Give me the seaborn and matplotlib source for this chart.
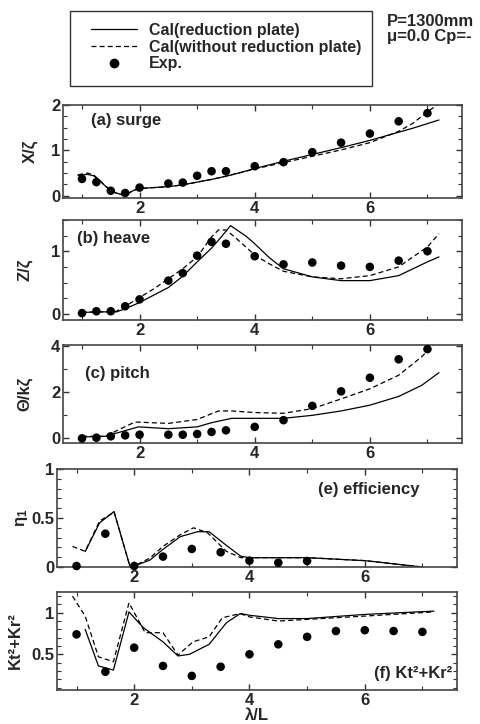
import matplotlib
matplotlib.use("Agg")
import matplotlib.pyplot as plt
from matplotlib.lines import Line2D
from matplotlib.patches import Rectangle
from matplotlib.ticker import MultipleLocator, FixedLocator, FuncFormatter
import seaborn as sns

sns.set_theme(style="ticks")
plt.rcParams['font.family'] = ['Liberation Sans', 'DejaVu Sans']
plt.rcParams['font.weight'] = 'bold'
plt.rcParams['mathtext.default'] = 'regular'

# ---------------- data ----------------
exp_x = [1.0, 1.25, 1.5, 1.75, 2.0, 2.5, 2.75, 3.0, 3.25, 3.5, 4.0, 4.5, 5.0, 5.5, 6.0, 6.5, 7.0]
surge_exp = [0.37, 0.30, 0.11, 0.06, 0.18, 0.27, 0.29, 0.44, 0.54, 0.54, 0.65, 0.74, 0.96, 1.17, 1.37, 1.64, 1.82]
heave_exp = [0.01, 0.04, 0.04, 0.12, 0.23, 0.53, 0.65, 0.93, 1.15, 1.12, 0.92, 0.79, 0.82, 0.77, 0.75, 0.85, 1.00]
pitch_exp = [0.0, 0.03, 0.09, 0.13, 0.16, 0.16, 0.16, 0.19, 0.28, 0.35, 0.50, 0.79, 1.41, 2.04, 2.63, 3.43, 3.87]

eff_exp_x = [1.0, 1.5, 2.0, 2.5, 3.0, 3.5, 4.0, 4.5, 5.0]
eff_exp = [0.01, 0.34, 0.01, 0.106, 0.184, 0.15, 0.065, 0.044, 0.061]

kt_exp_x = [1.0, 1.5, 2.0, 2.5, 3.0, 3.5, 4.0, 4.5, 5.0, 5.5, 6.0, 6.5, 7.0]
kt_exp = [0.74, 0.29, 0.58, 0.36, 0.24, 0.35, 0.50, 0.62, 0.71, 0.78, 0.79, 0.78, 0.77]

surge_x = [0.93, 1.0, 1.1, 1.2, 1.3, 1.4, 1.5, 1.6, 1.7, 1.8, 1.9, 2.0, 2.25, 2.5, 2.75, 3.0, 3.25, 3.5, 3.75, 4.0, 4.5, 5.0, 5.5, 6.0, 6.5, 6.75, 7.0, 7.2]
surge_red = [0.45, 0.46, 0.47, 0.44, 0.34, 0.22, 0.12, 0.06, 0.02, 0.05, 0.12, 0.16, 0.18, 0.20, 0.24, 0.30, 0.36, 0.43, 0.51, 0.60, 0.76, 0.91, 1.06, 1.22, 1.40, 1.49, 1.59, 1.67]
surge_wo = [0.46, 0.48, 0.50, 0.46, 0.35, 0.22, 0.12, 0.05, 0.02, 0.05, 0.12, 0.16, 0.18, 0.20, 0.24, 0.30, 0.36, 0.43, 0.51, 0.59, 0.73, 0.87, 1.01, 1.17, 1.42, 1.60, 1.85, 2.03]

heave_red_x = [1.0, 1.25, 1.5, 1.6, 1.75, 2.0, 2.25, 2.5, 2.75, 3.0, 3.25, 3.42, 3.58, 3.85, 4.0, 4.25, 4.5, 5.0, 5.5, 6.0, 6.5, 7.0, 7.2]
heave_red = [0.02, 0.03, 0.03, 0.03, 0.08, 0.18, 0.30, 0.42, 0.60, 0.83, 1.05, 1.23, 1.41, 1.24, 1.12, 0.90, 0.72, 0.59, 0.53, 0.53, 0.61, 0.83, 0.91]
heave_wo_x = [1.0, 1.25, 1.5, 1.6, 1.75, 2.0, 2.25, 2.5, 2.75, 3.0, 3.25, 3.37, 3.5, 3.65, 4.0, 4.25, 4.5, 5.0, 5.5, 6.0, 6.5, 7.0, 7.2]
heave_wo = [0.02, 0.03, 0.03, 0.04, 0.12, 0.26, 0.40, 0.56, 0.72, 0.91, 1.23, 1.34, 1.34, 1.23, 0.94, 0.80, 0.68, 0.59, 0.56, 0.61, 0.75, 1.07, 1.28]

pitch_red_x = [1.0, 1.4, 1.7, 1.98, 2.5, 3.0, 3.25, 3.6, 4.0, 4.5, 5.0, 5.5, 6.0, 6.5, 6.9, 7.2]
pitch_red = [0.06, 0.09, 0.30, 0.50, 0.42, 0.50, 0.68, 0.87, 0.87, 0.87, 1.00, 1.19, 1.44, 1.82, 2.30, 2.85]
pitch_wo_x = [1.0, 1.4, 1.7, 1.92, 2.5, 3.0, 3.37, 3.6, 4.0, 4.5, 5.0, 5.5, 6.0, 6.5, 6.9, 7.1]
pitch_wo = [0.09, 0.09, 0.45, 0.71, 0.65, 0.82, 1.19, 1.19, 1.12, 1.09, 1.29, 1.71, 2.15, 2.74, 3.54, 4.05]

eff_red_x = [1.15, 1.4, 1.65, 1.93, 2.0, 2.27, 2.5, 2.8, 3.1, 3.3, 3.6, 3.85, 4.0, 5.0, 6.0, 7.0]
eff_red = [0.157, 0.45, 0.566, 0.0, 0.01, 0.07, 0.18, 0.31, 0.36, 0.36, 0.22, 0.11, 0.095, 0.095, 0.065, 0.0]
eff_wo_x = [0.93, 1.15, 1.4, 1.63, 1.65, 1.93, 2.0, 2.27, 2.5, 2.8, 3.03, 3.27, 3.6, 3.85, 4.0, 5.0, 6.0, 7.0]
eff_wo = [0.21, 0.16, 0.47, 0.55, 0.566, 0.0, 0.01, 0.09, 0.21, 0.33, 0.40, 0.35, 0.16, 0.095, 0.095, 0.095, 0.065, 0.0]

kt_red_x = [1.15, 1.38, 1.64, 1.91, 2.16, 2.5, 2.76, 2.96, 3.3, 3.6, 3.84, 4.0, 4.5, 5.0, 6.0, 7.2]
kt_red = [0.80, 0.36, 0.31, 1.01, 0.82, 0.65, 0.48, 0.50, 0.62, 0.88, 0.99, 0.97, 0.93, 0.93, 0.98, 1.02]
kt_wo_x = [0.93, 1.15, 1.38, 1.64, 1.91, 2.19, 2.5, 2.76, 3.02, 3.3, 3.53, 3.84, 4.0, 4.5, 5.0, 6.0, 7.2]
kt_wo = [1.20, 0.96, 0.47, 0.41, 1.12, 0.76, 0.76, 0.49, 0.65, 0.71, 0.94, 0.99, 0.95, 0.90, 0.92, 0.96, 1.01]

legend_labels = ["Cal(reduction plate)", "Cal(without reduction plate)", "Exp."]
x_ticks = [2, 4, 6]

# ---------------- figure ----------------
W, H = 481, 724
fig = plt.figure(figsize=(W / 100, H / 100), dpi=100)


def add_ax(left, right, top, bottom):
    return fig.add_axes([left / W, 1 - bottom / H, (right - left) / W, (bottom - top) / H])


SOLID = dict(color='black', lw=0.9)
DASH = dict(color='black', lw=0.9, linestyle=(0, (4, 2.5)))
FS = 12
fmt = FuncFormatter(lambda v, p: f'{v:g}')


def style(ax, ylim, ymajor, yminor, ylabel, ylab_x):
    ax.set_xlim(0.67, 7.6)
    ax.set_ylim(*ylim)
    ax.xaxis.set_major_locator(FixedLocator(x_ticks))
    ax.xaxis.set_minor_locator(MultipleLocator(1))
    ax.yaxis.set_major_locator(FixedLocator(ymajor))
    ax.yaxis.set_minor_locator(MultipleLocator(yminor))
    ax.yaxis.set_major_formatter(fmt)
    ax.tick_params(which='both', direction='in', top=True, right=True,
                   color='#333333', labelsize=FS, pad=2)
    ax.tick_params(which='major', length=4.5, width=1.0)
    ax.tick_params(which='minor', length=3, width=0.8)
    for s in ax.spines.values():
        s.set_color('#444444')
        s.set_linewidth(1.2)
    ax.set_xlabel('')
    ax.set_ylabel(ylabel, fontsize=FS, fontweight='bold', va='center')
    ax.yaxis.set_label_coords(ylab_x, 0.5)


def draw(ax, rx, ry, wx, wy, ex, ey):
    sns.lineplot(x=rx, y=ry, ax=ax, sort=False, estimator=None, **SOLID)
    sns.lineplot(x=wx, y=wy, ax=ax, sort=False, estimator=None, **DASH)
    sns.scatterplot(x=ex, y=ey, ax=ax, color='black', s=38, edgecolor='none',
                    zorder=5, clip_on=False)


# (a) surge
ax_a = add_ax(63, 462, 105, 198)
draw(ax_a, surge_x, surge_red, surge_x, surge_wo, exp_x, surge_exp)
style(ax_a, (-0.05, 2.0), [0, 1, 2], 0.25, 'X/ζ', -0.083)
ax_a.text(0.07, 0.83, '(a) surge', transform=ax_a.transAxes, fontsize=FS,
          fontweight='bold', ha='left', va='center')

# (b) heave
ax_b = add_ax(63, 462, 220, 320)
draw(ax_b, heave_red_x, heave_red, heave_wo_x, heave_wo, exp_x, heave_exp)
style(ax_b, (-0.1, 1.5), [0, 1], 0.25, 'Z/ζ', -0.095)
ax_b.text(0.034, 0.82, '(b) heave', transform=ax_b.transAxes, fontsize=FS,
          fontweight='bold', ha='left', va='center')

# (c) pitch
ax_c = add_ax(63, 462, 345, 443)
draw(ax_c, pitch_red_x, pitch_red, pitch_wo_x, pitch_wo, exp_x, pitch_exp)
style(ax_c, (-0.2, 4.05), [0, 2, 4], 1, 'Θ/kζ', -0.095)
ax_c.text(0.055, 0.71, '(c) pitch', transform=ax_c.transAxes, fontsize=FS,
          fontweight='bold', ha='left', va='center')

# (e) efficiency
ax_e = add_ax(57.5, 457, 469, 567)
draw(ax_e, eff_red_x, eff_red, eff_wo_x, eff_wo, eff_exp_x, eff_exp)
style(ax_e, (0, 1.0), [0, 0.5, 1], 0.1, 'η$_1$', -0.089)
ax_e.text(0.652, 0.79, '(e) efficiency', transform=ax_e.transAxes, fontsize=FS,
          fontweight='bold', ha='left', va='center')

# (f) Kt^2 + Kr^2
ax_f = add_ax(57.5, 457, 592, 690)
draw(ax_f, kt_red_x, kt_red, kt_wo_x, kt_wo, kt_exp_x, kt_exp)
style(ax_f, (0.07, 1.25), [0.5, 1], 0.1, 'Kt²+Kr²', -0.106)
ax_f.set_xlabel('λ/L', fontsize=FS, fontweight='bold', labelpad=0)
ax_f.text(0.987, 0.17, '(f) Kt²+Kr²', transform=ax_f.transAxes, fontsize=FS,
          fontweight='bold', ha='right', va='center')

for ax in (ax_a, ax_b, ax_c, ax_e, ax_f):
    for lab in ax.get_xticklabels() + ax.get_yticklabels():
        lab.set_fontweight('bold')

# legend (frame drawn as a separate rectangle)
handles = [Line2D([], [], **SOLID),
           Line2D([], [], **DASH),
           Line2D([], [], color='black', marker='o', linestyle='none', markersize=6)]
leg = fig.legend(handles, legend_labels, loc='upper left',
                 bbox_to_anchor=(91 / W, 1 - 23 / H), borderaxespad=0,
                 frameon=False, prop={'size': 11.5, 'weight': 'bold'},
                 handlelength=2.9, handletextpad=0.75, labelspacing=0.1,
                 borderpad=0)
fig.patches.append(Rectangle((70 / W, 1 - 86 / H), 302 / W, 75 / H,
                             transform=fig.transFigure, fill=False,
                             edgecolor='#333333', lw=1.0))

fig.text(387 / W, 1 - 22 / H, 'P=1300mm', fontsize=12, fontweight='bold',
         ha='left', va='center')
fig.text(387 / W, 1 - 37 / H, 'μ=0.0 Cp=-', fontsize=12, fontweight='bold',
         ha='left', va='center')

fig.savefig('out.png', dpi=100)
